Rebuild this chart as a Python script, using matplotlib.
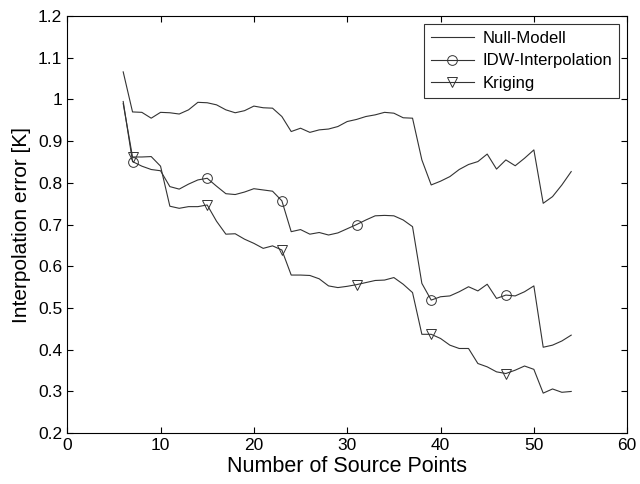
import numpy as np
import matplotlib
matplotlib.use('Agg')
import matplotlib.pyplot as plt
from matplotlib.ticker import FormatStrFormatter

plt.rcParams['font.family'] = ['Liberation Sans', 'DejaVu Sans']

# number of source points
n_points = list(range(6, 55))

null_model = [1.066, 0.970, 0.969, 0.955, 0.969, 0.968, 0.965, 0.975, 0.993, 0.992,
              0.987, 0.975, 0.968, 0.973, 0.984, 0.980, 0.979, 0.959, 0.923, 0.931,
              0.921, 0.927, 0.929, 0.935, 0.947, 0.952, 0.959, 0.963, 0.969, 0.967,
              0.956, 0.955, 0.855, 0.795, 0.804, 0.815, 0.832, 0.844, 0.851, 0.869,
              0.833, 0.855, 0.841, 0.859, 0.879, 0.751, 0.767, 0.795, 0.827]

idw = [0.995, 0.851, 0.840, 0.832, 0.829, 0.791, 0.785, 0.797, 0.807, 0.811,
       0.792, 0.774, 0.772, 0.778, 0.786, 0.783, 0.780, 0.757, 0.683, 0.688,
       0.677, 0.681, 0.675, 0.680, 0.690, 0.700, 0.711, 0.721, 0.722, 0.721,
       0.711, 0.695, 0.559, 0.519, 0.527, 0.529, 0.539, 0.551, 0.541, 0.557,
       0.523, 0.531, 0.529, 0.539, 0.553, 0.406, 0.411, 0.421, 0.435]

kriging = [0.990, 0.862, 0.862, 0.863, 0.840, 0.744, 0.739, 0.743, 0.743, 0.747,
           0.708, 0.677, 0.678, 0.665, 0.655, 0.643, 0.649, 0.639, 0.579, 0.579,
           0.578, 0.570, 0.553, 0.549, 0.552, 0.556, 0.561, 0.566, 0.567, 0.573,
           0.557, 0.537, 0.437, 0.437, 0.427, 0.411, 0.403, 0.403, 0.367, 0.359,
           0.347, 0.343, 0.351, 0.361, 0.353, 0.296, 0.306, 0.298, 0.300]

fig = plt.figure(figsize=(6.4, 4.84), dpi=100)
ax = fig.add_axes([0.105, 0.105, 0.875, 0.862])

lc = '#333333'
ax.plot(n_points, null_model, color=lc, lw=0.8, label='Null-Modell')
ax.plot(n_points, idw, color=lc, lw=0.8, marker='o', markevery=(1, 8),
        ms=7, mfc='none', mec=lc, mew=0.7, label='IDW-Interpolation')
ax.plot(n_points, kriging, color=lc, lw=0.8, marker='v', markevery=(1, 8),
        ms=7.5, mfc='none', mec=lc, mew=0.7, label='Kriging')

ax.set_xlim(0, 60)
ax.set_ylim(0.2, 1.2)
ax.set_xticks(np.arange(0, 61, 10))
ax.set_yticks(np.arange(0.2, 1.21, 0.1))
ax.yaxis.set_major_formatter(FormatStrFormatter('%g'))
ax.tick_params(direction='in', top=True, right=True, labelsize=12.5, length=4)
for s in ax.spines.values():
    s.set_linewidth(0.8)

ax.set_xlabel('Number of Source Points', fontsize=15.5, labelpad=2)
ax.set_ylabel('Interpolation error [K]', fontsize=15, labelpad=5)

leg = ax.legend(loc='upper right', fontsize=12, numpoints=1, fancybox=False,
                edgecolor='black', borderaxespad=0.5, handlelength=2.6,
                labelspacing=0.45, borderpad=0.4, handletextpad=0.5)
leg.get_frame().set_linewidth(0.8)

fig.savefig('out.png', dpi=100)
